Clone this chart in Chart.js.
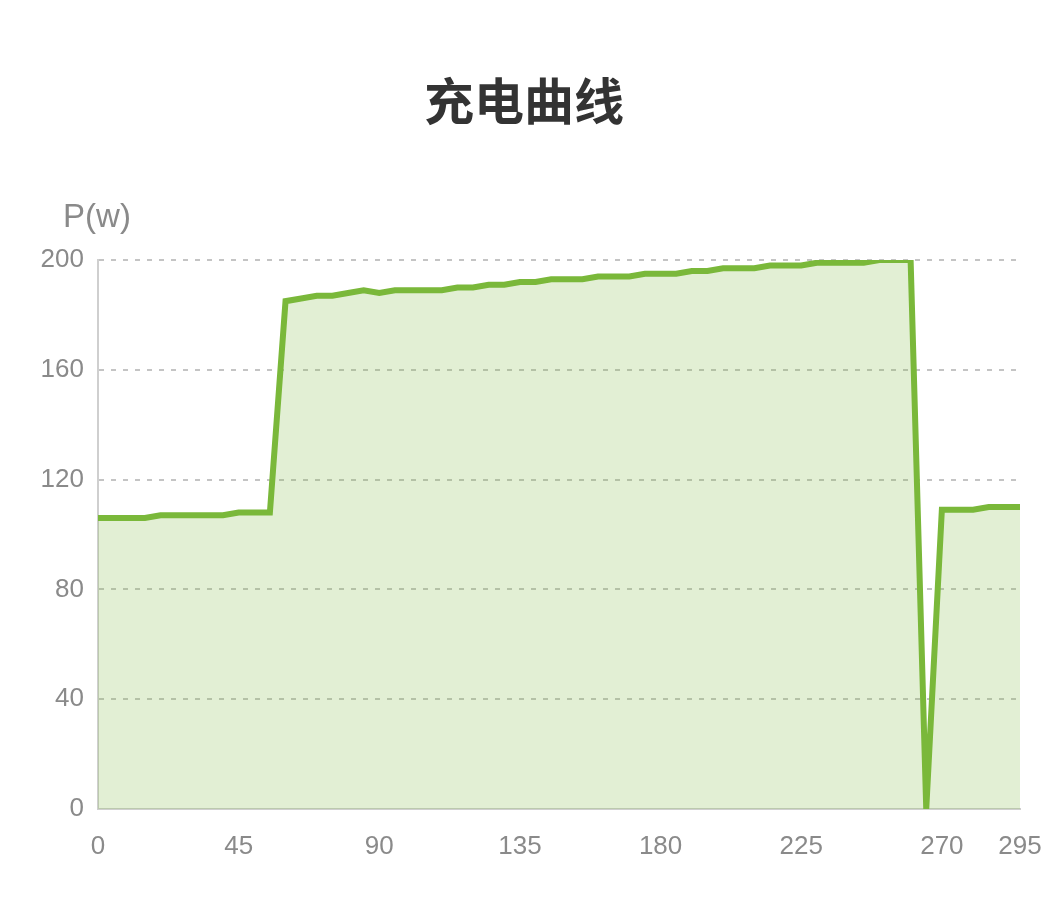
<!DOCTYPE html>
<html>
<head>
<meta charset="utf-8">
<script src="https://cdn.jsdelivr.net/npm/chart.js@4"></script>
<style>
  html, body { margin: 0; padding: 0; background: #fff; }
  #wrap { width: 1048px; height: 914px; }
</style>
</head>
<body>
<div id="wrap"><canvas id="myChart" width="1048" height="914"></canvas></div>
<script>
// time in seconds, power in watts
const times = [0, 5, 10, 15, 20, 25, 30, 35, 40, 45, 50, 55,
  60, 65, 70, 75, 80, 85, 90, 95, 100, 105, 110, 115, 120, 125, 130, 135,
  140, 145, 150, 155, 160, 165, 170, 175, 180, 185, 190, 195, 200, 205, 210,
  215, 220, 225, 230, 235, 240, 245, 250, 255, 260, 265, 270, 275, 280, 285, 290, 295]
const power = [106, 106, 106, 106, 107, 107, 107, 107, 107, 108, 108, 108,
  185, 186, 187, 187, 188, 189, 188, 189, 189, 189, 189, 190, 190, 191, 191, 192,
  192, 193, 193, 193, 194, 194, 194, 195, 195, 195, 196, 196, 197, 197, 197,
  198, 198, 198, 199, 199, 199, 199, 200, 200, 200, 0, 109, 109, 109, 110, 110, 110]
const xTicks = [0, 45, 90, 135, 180, 225, 270, 295]
const yTicks = [0, 40, 80, 120, 160, 200]

const titleText = '充电曲线'
const yUnit = 'P(w)'

const points = times.map((t, i) => ({ x: t, y: power[i] }))

const unitLabel = {
    id: 'unitLabel',
    afterDraw(chart) {
        const ctx = chart.ctx
        const area = chart.chartArea
        ctx.save()
        ctx.fillStyle = '#8a8a8a'
        ctx.font = '33px "Liberation Sans", Arial, sans-serif'
        ctx.textAlign = 'center'
        ctx.textBaseline = 'middle'
        ctx.fillText(yUnit, area.left - 1, area.top - 42)
        ctx.restore()
    }
}

const data = {
    datasets: [{
        label: 'P',
        data: points,
        borderColor: 'rgb(122, 184, 58)',
        backgroundColor: 'rgba(122, 184, 58, 0.22)',
        borderWidth: 6,
        fill: 'origin',
        pointRadius: 0,
        tension: 0,
        borderJoinStyle: 'miter'
    }]
}

const config = {
    type: 'line',
    data: data,
    options: {
        responsive: false,
        animation: false,
        layout: { padding: 0 },
        plugins: {
            legend: { display: false },
            tooltip: { enabled: false },
            title: {
                display: true,
                text: titleText,
                color: '#333',
                font: { family: '"Noto Sans CJK SC", sans-serif', size: 50, weight: 'bold' },
                padding: { top: 71, bottom: 129 }
            }
        },
        scales: {
            x: {
                type: 'linear',
                min: 0,
                max: 295,
                afterBuildTicks: (scale) => { scale.ticks = xTicks.map(v => ({ value: v })) },
                afterFit: (scale) => {
                    scale.height = 105
                    scale.paddingRight = 28
                },
                ticks: {
                    color: '#8a8a8a',
                    font: { family: '"Liberation Sans", Arial, sans-serif', size: 26 },
                    padding: 0,
                    maxRotation: 0,
                    autoSkip: false
                },
                grid: { display: false, drawTicks: true, tickLength: 22 },
                border: { display: true, color: '#cfcfcf', width: 2 }
            },
            y: {
                min: 0,
                max: 200,
                afterBuildTicks: (scale) => { scale.ticks = yTicks.map(v => ({ value: v })) },
                afterFit: (scale) => { scale.width = 98 },
                ticks: {
                    color: '#8a8a8a',
                    font: { family: '"Liberation Sans", Arial, sans-serif', size: 26 },
                    padding: 14
                },
                grid: {
                    drawTicks: false,
                    color: (ctx) => ctx.tick && ctx.tick.value === 0 ? 'rgba(0,0,0,0)' : '#c4c4c4',
                    lineWidth: 2
                },
                border: { display: true, color: '#cfcfcf', width: 2, dash: [5, 7], dashOffset: 0 }
            }
        }
    },
    plugins: [unitLabel]
}

var chart

window.addEventListener('DOMContentLoaded', () => {
    chart = new Chart(document.getElementById('myChart'), config)
})
</script>
</body>
</html>
